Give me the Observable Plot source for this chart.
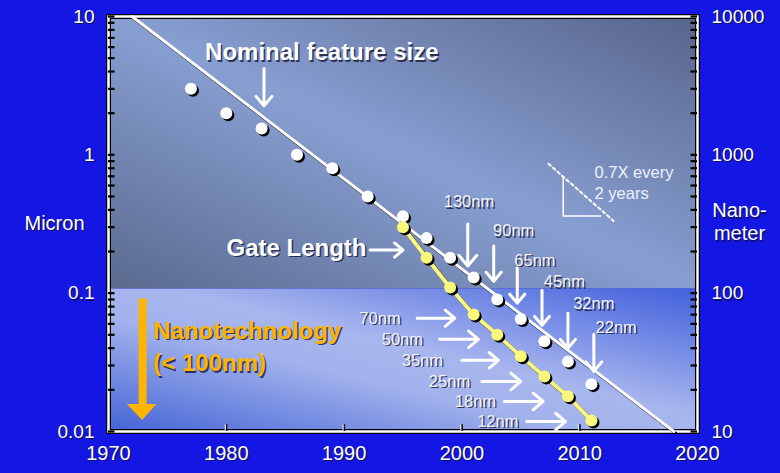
<!DOCTYPE html>
<html>
<head>
<meta charset="utf-8">
<script src="https://cdn.jsdelivr.net/npm/d3@7"></script>
<script src="https://cdn.jsdelivr.net/npm/@observablehq/plot@0.6"></script>
<style>
  body { margin: 0; background: #1416e4; }
  #chart svg { display: block; background: #1416e4; }
</style>
</head>
<body>
<div id="chart"></div>
<script>
// datos (años, micrones)
const nominalYears = [1977, 1980, 1983, 1986, 1989, 1992, 1995, 1997, 1999, 2001, 2003, 2005, 2007, 2009, 2011]
const nominalSize = [3.0, 2.0, 1.55, 1.0, 0.8, 0.5, 0.36, 0.25, 0.18, 0.13, 0.09, 0.065, 0.045, 0.032, 0.022]
const gateYears = [1995, 1997, 1999, 2001, 2003, 2005, 2007, 2009, 2011]
const gateLength = [0.3, 0.18, 0.11, 0.07, 0.05, 0.035, 0.025, 0.018, 0.012]
const trendYears = [1972, 2018]
const trendSize = [10, 0.01]

const xTicks = [1970, 1980, 1990, 2000, 2010, 2020]
const yTicks = [0.01, 0.1, 1, 10]
const yTickLabels = ['0.01', '0.1', '1', '10']
const nmTickLabels = ['10', '100', '1000', '10000']

// etiquetas de nodos (arriba: nominal, izquierda: gate)
const topLabels = ['130nm', '90nm', '65nm', '45nm', '32nm', '22nm']
const topLabelX = [2000.6, 2004.4, 2006.2, 2008.7, 2011.2, 2013.1]
const topLabelY = [0.456, 0.281, 0.173, 0.120, 0.0832, 0.0567]
const topArrowX = [2000.5, 2002.7, 2004.7, 2006.8, 2009.0, 2011.2]
const topArrowY1 = [0.316, 0.219, 0.152, 0.105, 0.0716, 0.0505]
const topArrowY2 = [0.157, 0.122, 0.0847, 0.0586, 0.0399, 0.0272]

const leftLabels = ['70nm', '50nm', '35nm', '25nm', '18nm', '12nm']
const leftLabelX = [1994.8, 1996.7, 1998.4, 2000.7, 2002.9, 2004.8]
const leftLabelY = [0.0659, 0.0464, 0.0327, 0.0230, 0.0165, 0.0118]
const leftArrowX1 = [1996.2, 1998.1, 2000.0, 2001.7, 2003.6, 2005.5]
const leftArrowX2 = [1999.4, 2001.4, 2003.1, 2005.0, 2006.9, 2008.8]

const nominal = nominalYears.map((year, i) => ({year, size: nominalSize[i]}))
const gate = gateYears.map((year, i) => ({year, size: gateLength[i]}))
const trend = trendYears.map((year, i) => ({year, size: trendSize[i]}))
const topNodes = topLabels.map((label, i) => ({label, x: topLabelX[i], y: topLabelY[i], ax: topArrowX[i], y1: topArrowY1[i], y2: topArrowY2[i]}))
const leftNodes = leftLabels.map((label, i) => ({label, x: leftLabelX[i], y: leftLabelY[i], x1: leftArrowX1[i], x2: leftArrowX2[i]}))

// marcas menores del eje log
const minorTicks = []
for (const d of [0.01, 0.1, 1]) for (let k = 1; k < 10; k++) minorTicks.push(d * k)
minorTicks.push(10)

const font = 'Liberation Sans, Arial, sans-serif'
const boundary = 0.107

// texto con sombra oscura
const shadowText = (data, opts) => [
  Plot.text(data, {...opts, fill: '#101030', fillOpacity: 0.75, dx: (opts.dx || 0) + 1.5, dy: (opts.dy || 0) + 1.5}),
  Plot.text(data, opts)
]

let chart = Plot.plot({
  width: 780,
  height: 473,
  marginLeft: 108,
  marginRight: 83,
  marginTop: 16,
  marginBottom: 42,
  style: {fontFamily: font, background: '#1416e4', overflow: 'visible'},
  x: {domain: [1970, 2020], axis: null},
  y: {type: 'log', domain: [0.01, 10], axis: null},
  marks: [
    // fondos
    Plot.rect([{y1: boundary, y2: 10}], {x1: 1970, x2: 2020, y1: 'y1', y2: 'y2', fill: 'url(#upperGrad)'}),
    Plot.rect([{y1: 0.01, y2: boundary}], {x1: 1970, x2: 2020, y1: 'y1', y2: 'y2', fill: 'url(#lowerGrad)'}),

    // marco
    Plot.frame({stroke: 'black', strokeWidth: 5}),
    Plot.frame({stroke: 'white', strokeWidth: 2.5}),

    // marcas de eje
    Plot.ruleY(minorTicks, {y: d => d, x1: 1970, x2: 1970.55, stroke: 'black', strokeWidth: 2.2}),
    Plot.ruleY(minorTicks, {y: d => d, x1: 2019.45, x2: 2020, stroke: 'black', strokeWidth: 2.2}),
    Plot.ruleX(xTicks.slice(1, -1), {x: d => d, y1: 0.01, y2: 0.0112, stroke: 'black', strokeWidth: 2}),
    Plot.ruleX(xTicks.slice(1, -1), {x: d => d, y1: 0.01, y2: 0.0112, stroke: 'white', strokeWidth: 1, dx: -1}),

    // línea de tendencia nominal
    Plot.line(trend, {x: 'year', y: 'size', stroke: 'black', strokeWidth: 3, dx: 1.5, dy: 1.5}),
    Plot.line(trend, {x: 'year', y: 'size', stroke: 'white', strokeWidth: 3}),

    // puntos nominales
    Plot.dot(nominal, {x: 'year', y: 'size', r: 6, fill: 'black', dx: 2, dy: 2}),
    Plot.dot(nominal, {x: 'year', y: 'size', r: 6, fill: 'white'}),

    // gate length
    Plot.line(gate, {x: 'year', y: 'size', stroke: 'black', strokeWidth: 4, dx: 1.5, dy: 1.5}),
    Plot.line(gate, {x: 'year', y: 'size', stroke: '#fbfa7e', strokeWidth: 4}),
    Plot.dot(gate, {x: 'year', y: 'size', r: 6, fill: 'black', dx: 2, dy: 2}),
    Plot.dot(gate, {x: 'year', y: 'size', r: 6, fill: '#f9f87a'}),

    // etiquetas de ejes
    ...shadowText(yTicks, {x: 1970, y: d => d, text: (d, i) => yTickLabels[i], dx: -14, textAnchor: 'end', fontSize: 19, fill: 'white'}),
    ...shadowText(yTicks, {x: 2020, y: d => d, text: (d, i) => nmTickLabels[i], dx: 14, textAnchor: 'start', fontSize: 19, fill: 'white'}),
    ...shadowText(xTicks, {x: d => d, y: 0.01, text: d => String(d), dy: 22, fontSize: 20, fill: 'white'}),
    ...shadowText(['Micron'], {x: 1970, y: 0.321, dx: -54, fontSize: 20, fill: 'white'}),
    ...shadowText(['Nano-\nmeter'], {x: 2020, y: 0.33, dx: 42, fontSize: 20, lineHeight: 1.15, fill: 'white'}),

    // títulos de series
    ...shadowText(['Nominal feature size'], {x: 1978.2, y: 5.48, textAnchor: 'start', fontSize: 24, fontWeight: 'bold', fill: 'white'}),
    Plot.arrow([{x: 1983.2, y1: 4.2, y2: 2.26}], {x: 'x', y1: 'y1', y2: 'y2', stroke: 'white', strokeWidth: 3, headLength: 10, headAngle: 80}),
    ...shadowText(['Gate Length'], {x: 1991.9, y: 0.212, textAnchor: 'end', fontSize: 24, fontWeight: 'bold', fill: 'white'}),
    Plot.arrow([{x1: 1992.2, x2: 1995.0, y: 0.205}], {x1: 'x1', x2: 'x2', y: 'y', stroke: 'white', strokeWidth: 3, headLength: 10, headAngle: 80}),

    // nodos
    ...shadowText(topNodes, {x: 'x', y: 'y', text: 'label', fontSize: 16.5, fill: '#f2f2f8'}),
    Plot.arrow(topNodes, {x: 'ax', y1: 'y1', y2: 'y2', stroke: 'white', strokeWidth: 3, headLength: 10, headAngle: 80}),
    ...shadowText(leftNodes, {x: 'x', y: 'y', text: 'label', textAnchor: 'end', fontSize: 16.5, fill: '#f2f2f8'}),
    Plot.arrow(leftNodes, {x1: 'x1', x2: 'x2', y: 'y', stroke: 'white', strokeWidth: 3, headLength: 10, headAngle: 80}),

    // nanotecnología
    Plot.ruleX([1972.9], {x: d => d, y1: 0.0906, y2: 0.0157, stroke: '#ffb400', strokeWidth: 8}),
    Plot.areaY([{x: 1971.6, y: 0.0157}, {x: 1972.9, y: 0.012}, {x: 1974.1, y: 0.0157}], {x: 'x', y1: 'y', y2: 0.0157, fill: '#ffb400', curve: 'linear'}),
    ...shadowText(['Nanotechnology'], {x: 1973.8, y: 0.0531, textAnchor: 'start', fontSize: 24, fontWeight: 'bold', fill: '#ffb400'}),
    ...shadowText(['(< 100nm)'], {x: 1973.8, y: 0.0311, textAnchor: 'start', fontSize: 24, fontWeight: 'bold', fill: '#ffb400'}),

    // 0.7X cada 2 años
    Plot.line([{x: 2007.35, y: 0.861}, {x: 2012.87, y: 0.333}], {x: 'x', y: 'y', stroke: 'white', strokeWidth: 2, strokeDasharray: '3,3'}),
    Plot.line([{x: 2008.6, y: 0.681}, {x: 2008.6, y: 0.361}, {x: 2011.77, y: 0.361}], {x: 'x', y: 'y', stroke: 'white', strokeWidth: 1.5}),
    Plot.text(['0.7X every', '2 years'], {x: 2011.26, y: (d, i) => [0.741, 0.521][i], textAnchor: 'start', fontSize: 16.5, fill: '#eef0ff'}),
  ]
})

// gradientes para el área del gráfico
const defs = d3.select(chart).insert('defs', ':first-child')
const upper = defs.append('linearGradient').attr('id', 'upperGrad')
  .attr('x1', 1).attr('y1', 0).attr('x2', 0).attr('y2', 1)
upper.append('stop').attr('offset', 0).attr('stop-color', '#56648a')
upper.append('stop').attr('offset', 0.5).attr('stop-color', '#889fd2')
upper.append('stop').attr('offset', 1).attr('stop-color', '#5a6a8e')
const lower = defs.append('linearGradient').attr('id', 'lowerGrad')
  .attr('x1', 1).attr('y1', 0).attr('x2', 0).attr('y2', 1)
lower.append('stop').attr('offset', 0).attr('stop-color', '#4160dc')
lower.append('stop').attr('offset', 0.45).attr('stop-color', '#a8b6ee')
lower.append('stop').attr('offset', 0.6).attr('stop-color', '#a2b2ec')
lower.append('stop').attr('offset', 1).attr('stop-color', '#4464d6')

d3.select('#chart').append(() => chart)
</script>
</body>
</html>
